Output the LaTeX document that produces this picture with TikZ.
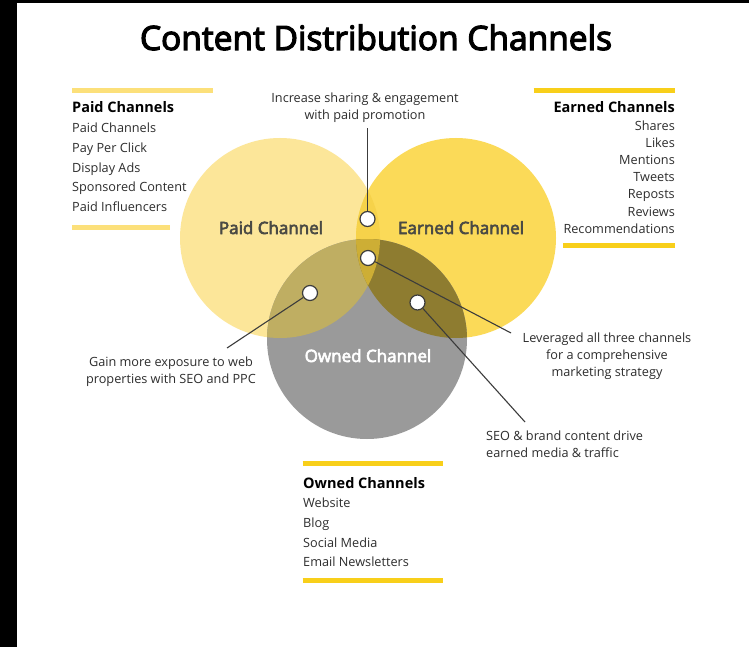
\documentclass[tikz,border=0pt]{standalone}
\usepackage{fontspec}
\setmainfont{Open Sans}
\newfontfamily\medfont{Open Sans}[FakeBold=3.5]
\usetikzlibrary{calc}

\definecolor{paidc}{HTML}{FCE699}
\definecolor{earnc}{HTML}{FBDA58}
\definecolor{ownc}{HTML}{9A9A9A}
\definecolor{pec}{HTML}{F6D24A}
\definecolor{poc}{HTML}{BFAE62}
\definecolor{eoc}{HTML}{8E7C30}
\definecolor{peoc}{HTML}{CDAE35}
\definecolor{barlight}{HTML}{FCE07A}
\definecolor{bargold}{HTML}{F8CF1A}
\definecolor{leadc}{HTML}{3C3C3C}
\definecolor{txt}{HTML}{2E2E2E}
\definecolor{ctxt}{HTML}{4A4A44}

\tikzset{
  item/.style={inner sep=0pt, text=txt, font=\fontsize{12.7}{15}\selectfont},
  head/.style={inner sep=0pt, text=black, font=\fontsize{14.5}{16}\selectfont\bfseries},
  note/.style={inner sep=0pt, text=txt, align=center, font=\fontsize{12.7}{17}\selectfont},
  clabel/.style={inner sep=0pt, font=\fontsize{17}{20}\selectfont\medfont},
  dot/.style={circle, fill=white, draw=leadc, line width=1.2pt, minimum size=15pt, inner sep=0pt},
  lead/.style={draw=leadc, line width=1.1pt},
  bar/.style={line width=5pt},
}

\begin{document}
\begin{tikzpicture}[x=1pt,y=-1pt]
% page frame
\fill[white] (0,0) rectangle (749,647);
\fill[black] (0,0) rectangle (17,647);
\fill[black] (0,0) rectangle (749,3);
\useasboundingbox (0,0) rectangle (749,647);

% title
\node[inner sep=0pt, anchor=base, text=black, font=\fontsize{33.5}{36}\selectfont\medfont] (title) at (376,50) {Content Distribution Channels};

% circle centres
\coordinate (P) at (280,238);
\coordinate (E) at (456,238);
\coordinate (O) at (367,339);

% single regions
\fill[paidc] (P) circle (100pt);
\fill[earnc] (E) circle (100pt);
\fill[ownc] (O) circle (100pt);
% pairwise overlaps
\begin{scope}
  \clip (P) circle (100pt);
  \fill[pec] (E) circle (100pt);
  \fill[poc] (O) circle (100pt);
\end{scope}
\begin{scope}
  \clip (E) circle (100pt);
  \fill[eoc] (O) circle (100pt);
\end{scope}
% triple overlap
\begin{scope}
  \clip (P) circle (100pt);
  \clip (E) circle (100pt);
  \fill[peoc] (O) circle (100pt);
\end{scope}

% circle labels
\node[clabel, text=ctxt, anchor=base] (lpaid) at (271,234) {Paid Channel};
\node[clabel, text=ctxt, anchor=base] (learn) at (461,234) {Earned Channel};
\node[clabel, text=white, anchor=base] (lown) at (368,362) {Owned Channel};

% marker dots
\node[dot] (dtop) at (367.5,219) {};
\node[dot] (dmid) at (368,258) {};
\node[dot] (dleft) at (310,293) {};
\node[dot] (dright) at (417.5,302.5) {};

% annotation texts (base anchor = baseline of the last line)
\node[note, anchor=base] (ntop) at (365,120) {Increase sharing \& engagement\\with paid promotion};
\node[note, anchor=base] (nmid) at (607,376) {Leveraged all three channels\\for a comprehensive\\marketing strategy};
\node[note, anchor=base] (nleft) at (171,383) {Gain more exposure to web\\properties with SEO and PPC};
\node[note, align=left, anchor=base west] (nright) at (486,457) {SEO \& brand content drive\\earned media \& traffic};

% leader line ends
\coordinate (etop) at (367.5,128);
\coordinate (emid) at (511,333);
\coordinate (eleft) at (227,348);
\coordinate (eright) at (525,422);
\draw[lead] (dtop) -- (etop);
\draw[lead] (dmid) -- (emid);
\draw[lead] (dleft) -- (eleft);
\draw[lead] (dright) -- (eright);

% paid channels list
\draw[bar, barlight] (72,90.5) -- (212.5,90.5);
\node[head, anchor=base west] (phead) at (72,113) {Paid Channels};
\foreach \t [count=\i] in {Paid Channels, Pay Per Click, Display Ads, Sponsored Content, Paid Influencers}
  \node[item, anchor=base west] (p\i) at (72,113+19.7*\i) {\t};
\draw[bar, barlight] (72,227) -- (170,227);

% earned channels list
\draw[bar, bargold] (533.5,90.5) -- (675,90.5);
\node[head, anchor=base east] (ehead) at (675,113) {Earned Channels};
\foreach \t [count=\i] in {Shares, Likes, Mentions, Tweets, Reposts, Reviews, Recommendations}
  \node[item, anchor=base east] (e\i) at (675,113+17.2*\i) {\t};
\draw[bar, bargold] (563,245) -- (675,245);

% owned channels list
\draw[bar, bargold] (302.5,463.5) -- (443,463.5);
\node[head, anchor=base west] (ohead) at (303,488) {Owned Channels};
\foreach \t [count=\i] in {Website, Blog, Social Media, Email Newsletters}
  \node[item, anchor=base west] (o\i) at (303,488+19.7*\i) {\t};
\draw[bar, bargold] (302.5,580.5) -- (443,580.5);
\end{tikzpicture}
\end{document}
